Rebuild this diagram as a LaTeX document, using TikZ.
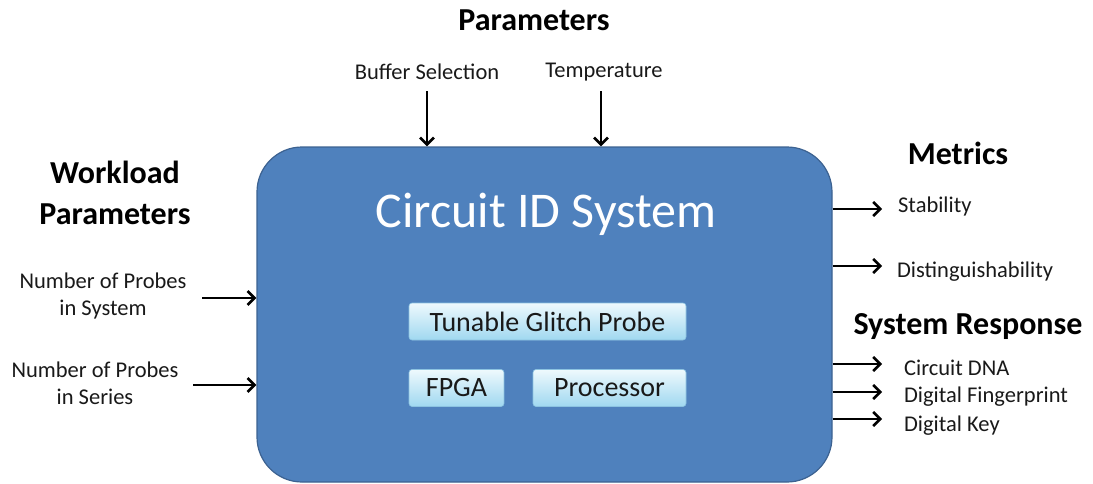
\documentclass[tikz,border=0pt]{standalone}
\usepackage{fontspec}
\setmainfont{Carlito}
\usetikzlibrary{arrows.meta, positioning}
\definecolor{sysblue}{RGB}{79,129,189}
\definecolor{sysedge}{RGB}{60,98,145}
\definecolor{chiptop}{RGB}{238,249,253}
\definecolor{chipbot}{RGB}{160,216,240}
\definecolor{chipedge}{RGB}{140,195,225}
\definecolor{inkgrey}{RGB}{25,25,25}
\begin{document}
\begin{tikzpicture}[x=1pt, y=-1pt, line width=2.3pt,
    label node/.style={font=\fontsize{22.5}{27}\selectfont, text=inkgrey, inner sep=0pt},
    head node/.style={font=\fontsize{32}{39}\selectfont\bfseries, text=black, inner sep=0pt, align=center},
    sys box/.style={draw=sysedge, line width=1.2pt, fill=sysblue, rounded corners=45pt,
      minimum width=575pt, minimum height=335pt},
    chip node/.style={draw=chipedge, line width=0.6pt, top color=chiptop, bottom color=chipbot,
      rounded corners=3pt, minimum height=37pt, inner sep=0pt,
      font=\fontsize{28}{32}\selectfont, text=inkgrey},
    arr/.style={-{Straight Barb[length=7pt, width=14pt, line width=2.6pt]}, line width=2.6pt, black} ]
    \useasboundingbox (0,0) rectangle (1093,483);
    % main block
    \node [sys box] (sys) at (544.5,314.5) {};
    \node [font=\fontsize{50}{58}\selectfont, text=white] (title) at (546,214) {Circuit ID System};
    \node [chip node, minimum width=277pt] (tgp) at (547.5,321.5) {Tunable Glitch Probe};
    \node [chip node, minimum width=95pt] (fpga) at (456.5,388) {FPGA};
    \node [chip node, minimum width=153pt] (proc) at (609.5,388) {Processor};
    % parameters on top
    \node [head node] (params) at (534,20) {Parameters};
    \node [label node] (buf) at (427,72) {Buffer Selection};
    \node [label node] (temp) at (604,72) {Temperature};
    \coordinate (buf0) at (427,91);
    \coordinate (temp0) at (601,91);
    \draw [arr] (buf0) to (buf0 |- sys.north);
    \draw [arr] (temp0) to (temp0 |- sys.north);
    % workload parameters on the left
    \node [head node] (work) at (115,193) {Workload\\[2pt]Parameters};
    \node [label node, align=center] (nsys) at (103,296) {Number of Probes\\in System};
    \node [label node, align=center] (nser) at (95,383) {Number of Probes\\in Series};
    \coordinate (nsys0) at (202,298);
    \coordinate (nser0) at (193,385);
    \draw [arr] (nsys0) to (nsys0 -| sys.west);
    \draw [arr] (nser0) to (nser0 -| sys.west);
    % metrics and responses on the right
    \node [head node] (metr) at (958,153) {Metrics};
    \node [head node] (resp) at (968,327) {System Response};
    \coordinate (stab0) at (882,209);
    \coordinate (dist0) at (882,266);
    \coordinate (dna0) at (882,364);
    \coordinate (fing0) at (882,392);
    \coordinate (key0) at (882,419);
    \draw [arr] (stab0 -| sys.east) to (stab0);
    \draw [arr] (dist0 -| sys.east) to (dist0);
    \draw [arr] (dna0 -| sys.east) to (dna0);
    \draw [arr] (fing0 -| sys.east) to (fing0);
    \draw [arr] (key0 -| sys.east) to (key0);
    \node [label node, anchor=west] (stab) at (897,206) {Stability};
    \node [label node, anchor=west] (dist) at (896,272) {Distinguishability};
    \node [label node, anchor=west] (dna) at (903,368) {Circuit DNA};
    \node [label node, anchor=west] (fing) at (903,397) {Digital Fingerprint};
    \node [label node, anchor=west] (key) at (903,426) {Digital Key};
\end{tikzpicture}
\end{document}
